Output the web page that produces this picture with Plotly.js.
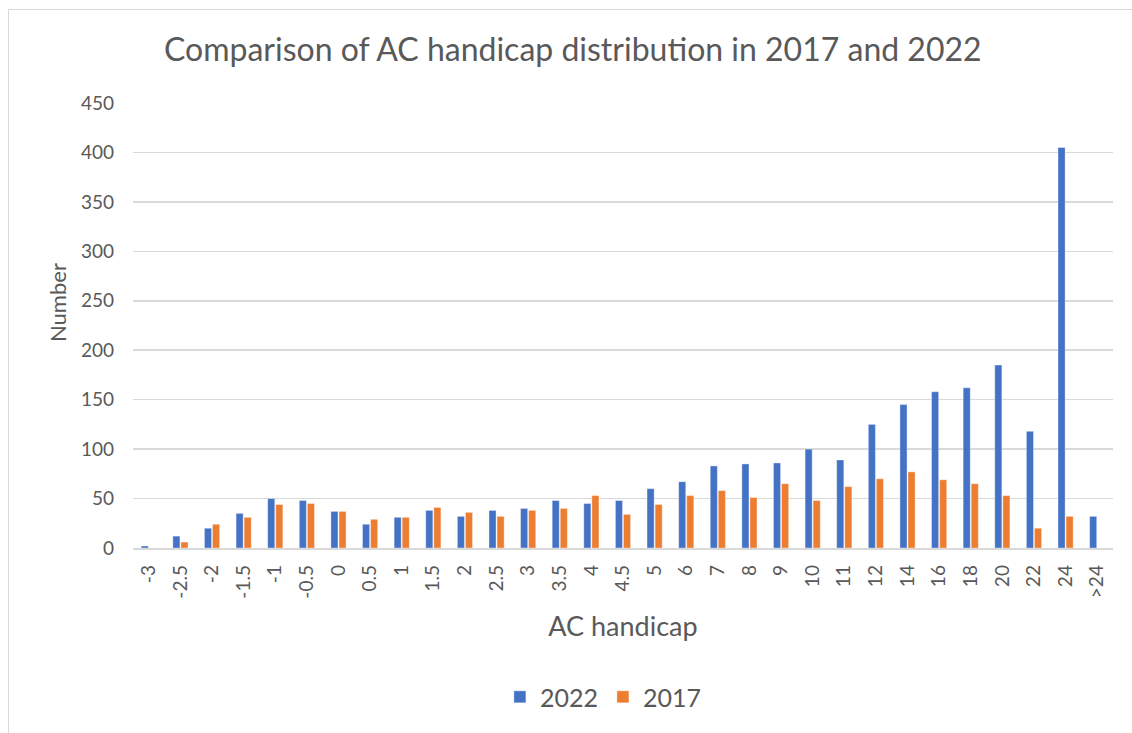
<!DOCTYPE html>
<html>
<head>
<meta charset="utf-8">
<script src="https://cdn.plot.ly/plotly-3.0.1.min.js"></script>
<style>
html,body{margin:0;padding:0;background:#fff;}
#chart{width:1132px;height:733px;}
#frame{position:absolute;left:8px;top:9px;width:1200px;height:800px;border-left:1px solid #d9d9d9;border-top:1px solid #d9d9d9;pointer-events:none;}
</style>
</head>
<body>
<div id="chart"></div>
<div id="frame"></div>
<script>
const categories = ["-3","-2.5","-2","-1.5","-1","-0.5","0","0.5","1","1.5","2","2.5","3","3.5","4","4.5","5","6","7","8","9","10","11","12","14","16","18","20","22","24",">24"];
const values2022 = [2,12,20,35,50,48,37,24,31,38,32,38,40,48,45,48,60,67,83,85,86,100,89,125,145,158,162,185,118,405,32];
const values2017 = [0,6,24,31,44,45,37,29,31,41,36,32,38,40,53,34,44,53,58,51,65,48,62,70,77,69,65,53,20,32,0];
const yTicks = [0,50,100,150,200,250,300,350,400,450];

const FONT = "Lato, 'Open Sans', sans-serif";
const GREY = "#595959";

const traces = [
  {type:"bar", name:"2022", x:categories, y:values2022, marker:{color:"#4472C4", line:{color:"rgba(255,255,255,0.6)", width:0.6}}},
  {type:"bar", name:"2017", x:categories, y:values2017, marker:{color:"#ED7D31", line:{color:"rgba(255,255,255,0.6)", width:0.6}}}
];

const layout = {
  width:1132, height:733,
  margin:{l:133, r:19, t:103, b:185},
  paper_bgcolor:"#fff", plot_bgcolor:"#fff",
  font:{family:FONT, color:GREY},
  title:{text:"Comparison of AC handicap distribution in 2017 and 2022", font:{size:32, color:GREY, family:FONT}, x:0.506, xanchor:"center", y:0.932, yanchor:"middle"},
  barmode:"group",
  bargap:0.49,
  bargroupgap:0.12,
  showlegend:true,
  legend:{orientation:"h", x:0.48, xanchor:"center", y:-0.335, yanchor:"middle", font:{size:25, color:GREY, family:FONT}, itemwidth:30, traceorder:"normal"},
  xaxis:{type:"category", tickangle:-90, tickfont:{size:19, color:GREY, family:FONT}, showgrid:false, showline:true, linecolor:"#d9d9d9", linewidth:1.5, ticks:"", ticklabelstandoff:8, automargin:false,
         title:{text:"AC handicap", font:{size:27, color:GREY, family:FONT}, standoff:19}},
  yaxis:{range:[0,450], tickvals:yTicks, ticktext:yTicks.map(String), tickfont:{size:19, color:GREY, family:FONT}, showgrid:true, gridcolor:"#d9d9d9", gridwidth:1.5, zeroline:false, showline:false, ticks:"", ticklen:0, ticklabelstandoff:18, automargin:false},
  annotations:[
    {text:"Number", textangle:-90, xref:"paper", yref:"paper", x:(57-133)/980, y:(548-303)/445, xanchor:"center", yanchor:"middle", showarrow:false, font:{size:22, color:GREY, family:FONT}}
  ]
};

Plotly.newPlot("chart", traces, layout, {displayModeBar:false, staticPlot:true});
</script>
</body>
</html>
